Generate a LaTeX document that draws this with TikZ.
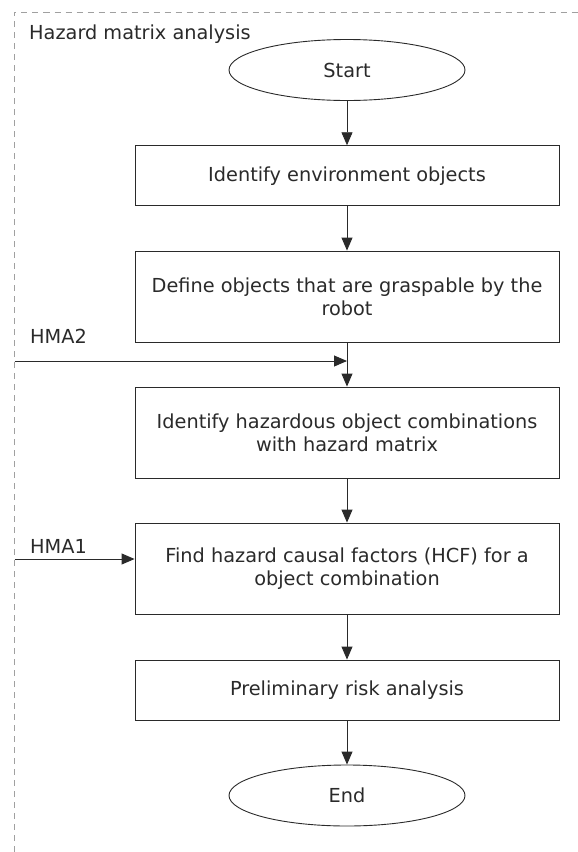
\documentclass[tikz,border=0pt]{standalone}
\usepackage{fontspec}
\setmainfont{DejaVu Sans}
\usetikzlibrary{shapes.geometric,arrows.meta}
\definecolor{ink}{HTML}{2A2A2A}
\definecolor{frame}{HTML}{A0A0A0}
\begin{document}
\begin{tikzpicture}[x=1pt,y=-1pt,
  font=\fontsize{19.3}{23}\selectfont,
  every node/.style={text=ink},
  stepbox/.style={draw=ink,line width=0.9pt,rectangle,minimum width=424pt,align=center,inner sep=0pt},
  terminal/.style={draw=ink,line width=0.9pt,ellipse,minimum width=236pt,minimum height=61pt,inner sep=0pt},
  flow/.style={draw=ink,line width=0.9pt,-{Triangle[length=13pt,width=11pt]}},
  label/.style={anchor=base west,inner sep=0pt}]
\useasboundingbox (0,0) rectangle (578,852);
% dashed group frame (open to the right and bottom)
\draw[frame,line width=0.8pt,dash pattern=on 6pt off 5pt] (14.5,852) -- (14.5,12) -- (578,12);
\node[label] (title) at (29,39.5) {Hazard matrix analysis};
% flow nodes
\node[terminal] (start) at (347,70) {Start};
\node[stepbox,minimum height=60pt] (b1) at (347,175.7) {Identify environment objects};
\node[stepbox,minimum height=91pt] (b2) at (347,296.5) {Define objects that are graspable by the\\robot};
\node[stepbox,minimum height=91pt] (b3) at (347,432.5) {Identify hazardous object combinations\\with hazard matrix};
\node[stepbox,minimum height=91pt] (b4) at (347,568.5) {Find hazard causal factors (HCF) for a\\object combination};
\node[stepbox,minimum height=60pt] (b5) at (347,690) {Preliminary risk analysis};
\node[terminal] (end) at (347,795.5) {End};
% side inputs
\coordinate (h2) at (14.5,361);
\coordinate (m2) at (347,361);
\coordinate (h1) at (14.5,559);
\node[label] (l2) at (30,343) {HMA2};
\node[label] (l1) at (30,553) {HMA1};
% connectors
\draw[flow] (start) -- (b1);
\draw[flow] (b1) -- (b2);
\draw[flow] (b2) -- (b3);
\draw[flow] (b3) -- (b4);
\draw[flow] (b4) -- (b5);
\draw[flow] (b5) -- (end);
\draw[flow] (h2) -- (m2);
\draw[flow] (h1) -- (h1 -| b4.west);
\end{tikzpicture}
\end{document}
